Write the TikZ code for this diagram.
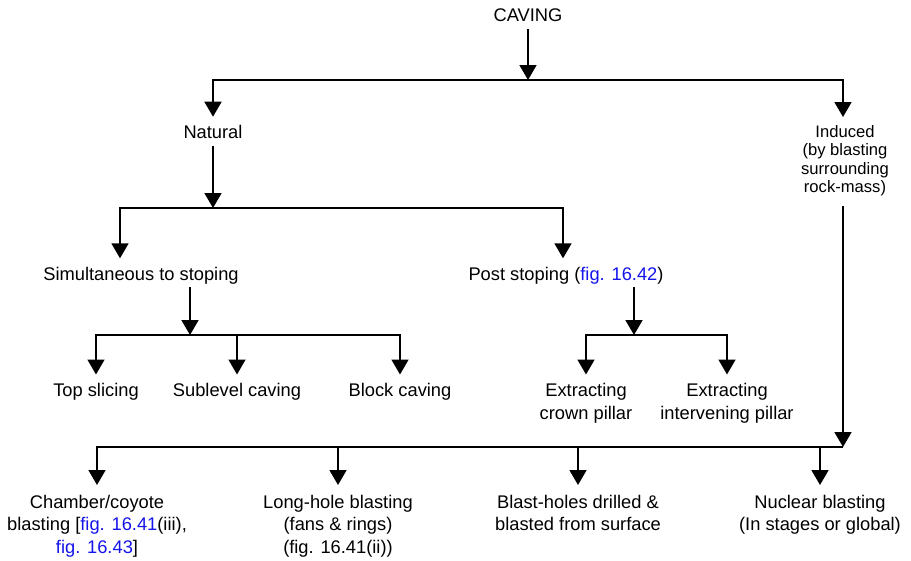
\documentclass[tikz,border=0pt]{standalone}
\usepackage{fontspec}
\setmainfont{Liberation Sans}
\usetikzlibrary{arrows.meta,calc}
\newcommand\fsA{\fontsize{18.3pt}{22.7pt}\selectfont}
\newcommand\fsB{\fontsize{16.6pt}{18.6pt}\selectfont}
\definecolor{figblue}{RGB}{20,20,235}
\newcommand\fref[1]{\textcolor{figblue}{#1}}
\begin{document}
\begin{tikzpicture}[x=1pt,y=-1pt,
  lbl/.style={font=\fsA,align=center,inner sep=0pt,outer sep=0pt,anchor=north},
  con/.style={line width=1.7pt},
  arr/.style={con,-{Triangle[width=17pt,length=15pt]}}]
\useasboundingbox (0,0) rectangle (911,560);
% nodes
\node[lbl] (caving) at (528,8.5) {CAVING};
\node[lbl] (natural) at (213,125.7) {Natural};
\node[lbl,font=\fsB] (induced) at (845,125) {Induced\\(by blasting\\surrounding\\rock-mass)};
\node[lbl] (simul) at (141,267.3) {Simultaneous to stoping};
\node[lbl] (post) at (566,267.3) {Post stoping (\fref{fig. 16.42})};
\node[lbl] (top) at (96,383.5) {Top slicing};
\node[lbl] (sub) at (237,383.5) {Sublevel caving};
\node[lbl] (block) at (400,383.5) {Block caving};
\node[lbl] (crown) at (586,383.5) {Extracting\\crown pillar};
\node[lbl] (interv) at (727,383.5) {Extracting\\intervening pillar};
\node[lbl] (chamber) at (97,495) {Chamber/coyote\\blasting [\fref{fig. 16.41}(iii),\\\fref{fig. 16.43}]};
\node[lbl] (long) at (338,495) {Long-hole blasting\\(fans \& rings)\\(fig. 16.41(ii))};
\node[lbl] (blast) at (578,495) {Blast-holes drilled \&\\blasted from surface};
\node[lbl] (nuclear) at (820,495) {Nuclear blasting\\(In stages or global)};
% junctions
\coordinate (j0) at (528,80);
\coordinate (j1) at (213,208);
\coordinate (j2) at (190,335);
\coordinate (j3) at (634,335);
\coordinate (j4) at (843,447);
% connectors
\draw[arr,shorten <=8pt] (caving.south) -- (j0);
\draw[arr,shorten >=8pt] (j0) -| ([xshift=-2pt]induced.north);
\draw[arr,shorten >=9pt] (j0) -| (natural.north);
\draw[arr,shorten <=7pt] (natural.south) -- (j1);
\draw[arr,shorten >=9pt] (j1) -| ([xshift=-21pt]simul.north);
\draw[arr,shorten >=9pt] (j1) -| ([xshift=-3pt]post.north);
\draw[arr,shorten <=3pt] ([xshift=49pt]simul.south) -- (j2);
\draw[arr,shorten >=9pt] (j2) -| (top.north);
\draw[arr,shorten >=9pt] (j2) -| (block.north);
\draw[arr,shorten >=9pt] (sub.north |- j2) -- (sub.north);
\draw[arr,shorten <=3pt] ([xshift=68pt]post.south) -- (j3);
\draw[arr,shorten >=9pt] (j3) -| (crown.north);
\draw[arr,shorten >=9pt] (j3) -| (interv.north);
\draw[arr,shorten <=10pt] ([xshift=-2pt]induced.south) -- (j4);
\draw[arr,shorten >=10pt] (j4) -| (chamber.north);
\draw[arr,shorten >=10pt] (long.north |- j4) -- (long.north);
\draw[arr,shorten >=10pt] (blast.north |- j4) -- (blast.north);
\draw[arr,shorten >=10pt] (nuclear.north |- j4) -- (nuclear.north);
\end{tikzpicture}
\end{document}
